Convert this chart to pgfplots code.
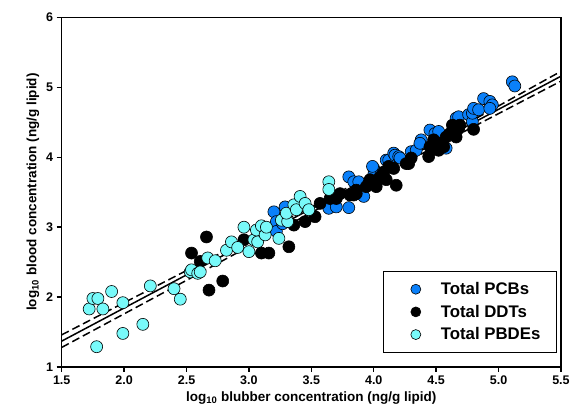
\documentclass[border=0pt]{standalone}
\usepackage{pgfplots}
\pgfplotsset{compat=1.18}
\usepackage{fontspec}
\setmainfont{Liberation Sans}
\definecolor{pcb}{RGB}{10,128,250}
\definecolor{pbde}{RGB}{120,250,250}
\newcommand{\lgf}{\bfseries\fontsize{16.8}{18}\selectfont}
\pgfplotsset{myleg/.style={legend image code/.code={\path[draw=none,fill=none] (0pt,0pt) -- (41pt,0pt); \draw[##1] plot coordinates {(18pt,0pt)};}}}
\begin{document}
\begin{tikzpicture}
\begin{axis}[
  name=ax,
  width=499.3pt, height=349.5pt, scale only axis,
  xmin=1.5, xmax=5.5, ymin=1, ymax=6,
  xtick={1.5,2.0,2.5,3.0,3.5,4.0,4.5,5.0,5.5},
  ytick={1,2,3,4,5,6},
  xticklabel style={/pgf/number format/.cd,fixed,fixed zerofill,precision=1},
  /pgf/number format/assume math mode=true,
  tick label style={font=\bfseries\fontsize{12.5}{14}\selectfont},
  label style={font=\bfseries\fontsize{13.5}{15}\selectfont},
  xlabel={log\textsubscript{10} blubber concentration (ng/g lipid)},
  ylabel={log\textsubscript{10} blood concentration (ng/g lipid)},
  axis line style={line width=1.4pt},
  tick style={line width=1.4pt, black},
  major tick length=5pt,
  tick align=outside,
  tick pos=left,
  clip=true,
  legend style={draw=black, line width=1.2pt, at={(0.992,0.040)}, anchor=south east,
    inner xsep=14pt, inner ysep=9pt,
    row sep=5pt, cells={anchor=west}},
  legend cell align=left,
]
\addplot[only marks, mark=*, mark size=6pt, mark options={fill=pcb, draw=black, line width=0.6pt}, myleg, legend image post style={mark size=5pt}] coordinates {
(3.20,3.22) (3.22,3.08) (3.22,2.94) (3.29,3.29) (3.27,3.05) (3.64,3.27) (3.70,3.29) (3.80,3.28)
(3.80,3.72) (3.84,3.65) (3.88,3.65) (3.92,3.44) (4.00,3.84) (4.00,3.75) (3.99,3.87) (4.10,3.96)
(4.12,3.96) (4.16,4.06) (4.17,4.03) (4.20,4.01) (4.21,3.99) (4.30,4.08) (4.34,4.10) (4.38,4.25)
(4.37,4.20) (4.45,4.39) (4.49,4.34) (4.52,4.37) (4.58,4.13) (4.66,4.56) (4.68,4.58) (4.76,4.61)
(4.79,4.51) (4.79,4.63) (4.80,4.70) (4.84,4.68) (4.88,4.84) (4.93,4.80) (4.95,4.75) (4.93,4.70)
(5.11,5.08) (5.13,5.02)
};
\addlegendentry{\lgf Total PCBs}
\addplot[only marks, mark=*, mark size=6pt, mark options={fill=black, draw=black, line width=0.6pt}, myleg, legend image post style={mark size=5pt}] coordinates {
(2.54,2.63) (2.61,2.51) (2.66,2.86) (2.68,2.10) (2.79,2.23) (2.96,2.82) (3.10,2.63) (3.16,2.63)
(3.32,2.72) (3.36,3.03) (3.45,3.08) (3.53,3.15) (3.57,3.34) (3.65,3.41) (3.70,3.41) (3.73,3.48)
(3.81,3.46) (3.84,3.46) (3.86,3.53) (3.86,3.48) (3.94,3.58) (3.97,3.68) (3.96,3.63) (4.02,3.63)
(4.02,3.58) (4.05,3.72) (4.08,3.79) (4.10,3.68) (4.12,3.87) (4.16,3.84) (4.18,3.60) (4.26,3.91)
(4.28,3.91) (4.30,3.99) (4.44,4.01) (4.45,4.15) (4.48,4.25) (4.52,4.10) (4.53,4.20) (4.56,4.15)
(4.58,4.29) (4.61,4.34) (4.63,4.46) (4.64,4.44) (4.65,4.32) (4.66,4.29) (4.68,4.41) (4.69,4.46)
(4.80,4.40)
};
\addlegendentry{\lgf Total DDTs}
\addplot[only marks, mark=*, mark size=6pt, mark options={fill=pbde, draw=black, line width=0.6pt}, myleg, legend image post style={mark size=5pt}] coordinates {
(1.72,1.83) (1.75,1.98) (1.79,1.98) (1.78,1.29) (1.83,1.83) (1.90,2.08) (1.99,1.92) (1.99,1.48)
(2.15,1.61) (2.21,2.16) (2.40,2.12) (2.45,1.97) (2.53,2.36) (2.54,2.39) (2.59,2.34) (2.61,2.36)
(2.67,2.56) (2.73,2.52) (2.82,2.67) (2.86,2.79) (2.91,2.71) (2.96,3.00) (3.00,2.65) (3.04,2.82)
(3.07,2.79) (3.06,2.96) (3.10,3.02) (3.13,2.89) (3.14,3.00) (3.24,2.84) (3.26,3.10) (3.31,3.08)
(3.30,3.20) (3.36,3.32) (3.38,3.25) (3.41,3.44) (3.45,3.34) (3.48,3.25) (3.64,3.65) (3.64,3.54)
};
\addlegendentry{\lgf Total PBDEs}
\addplot[black, line width=1.5pt, forget plot] coordinates {(1.5,1.37) (5.5,5.16)};
\addplot[black, line width=1.5pt, dash pattern=on 8pt off 4pt, forget plot] coordinates {(1.5,1.46) (2.5,2.38) (3.5,3.29) (4.5,4.24) (5.5,5.23)};
\addplot[black, line width=1.5pt, dash pattern=on 8pt off 4pt, forget plot] coordinates {(1.5,1.28) (2.5,2.24) (3.5,3.21) (4.5,4.16) (5.5,5.09)};
\end{axis}
\path (ax.south west) ++(-61.7pt,-48pt) rectangle ++(573pt,415pt);
\end{tikzpicture}
\end{document}
